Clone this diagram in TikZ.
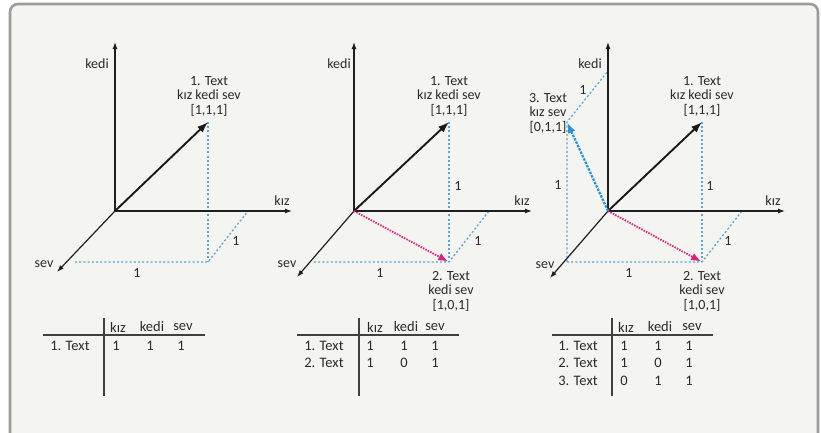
\documentclass[tikz,border=0pt]{standalone}
\usepackage{fontspec}
\setmainfont{Carlito}
\usetikzlibrary{arrows.meta,positioning,calc}
\definecolor{bgpanel}{HTML}{F4F4F1}
\definecolor{framegray}{HTML}{9C9C9C}
\definecolor{txtgray}{HTML}{2A2A2A}
\definecolor{guideblue}{HTML}{5AA6D6}
\definecolor{vecpink}{HTML}{D8237C}
\definecolor{vecblue}{HTML}{2B93D6}
\tikzset{
  axis/.style={line width=1.2pt,draw=black!88,-{Latex[length=7pt,width=5pt]}},
  vecblack/.style={line width=1.9pt,draw=black!90,-{Latex[length=11pt,width=8pt]}},
  vecpinkdot/.style={line width=1.8pt,draw=vecpink,dash pattern=on 1.5pt off 1.2pt,-{Latex[length=10pt,width=8pt]},shorten >=1pt},
  vecbluedash/.style={line width=2.2pt,draw=vecblue,dash pattern=on 2.5pt off 1.2pt,-{Latex[length=10pt,width=8pt]},shorten >=1pt},
  guide/.style={line width=1.3pt,draw=guideblue,dash pattern=on 2pt off 2.2pt},
  lbl/.style={text=txtgray,font=\fontsize{14}{14.5}\selectfont,inner sep=1pt,align=center},
  tbl/.style={text=txtgray,font=\fontsize{14.5}{16}\selectfont,inner sep=1pt},
  rule/.style={line width=1.2pt,draw=black!75}
}
\begin{document}
\begin{tikzpicture}[x=1pt,y=-1pt]
  \useasboundingbox (0,0) rectangle (821,432);
  \fill[white] (0,0) rectangle (821,432);
  \draw[rounded corners=8pt,line width=2.6pt,draw=framegray,fill=bgpanel] (10,4) rectangle (818,450);

  % first space: only 1. Text
  \coordinate (O1) at (115,211);
  \coordinate (kedi1) at (115,42);
  \coordinate (kiz1) at (292,211);
  \coordinate (sev1) at (57,272);
  \coordinate (t111a) at (208,122);
  \coordinate (t101a) at (208,262);
  \coordinate (s1) at (75,262);
  \coordinate (k1) at (248,211);
  \draw[guide] (t111a) -- (t101a);
  \draw[guide] (s1) -- (t101a) -- (k1);
  \draw[axis] (O1) -- (kedi1);
  \draw[axis] (O1) -- (kiz1);
  \draw[axis] (O1) -- (sev1);
  \draw[vecblack] (O1) -- (t111a);
  \node[lbl] (kedilab1) at (97,64) {kedi};
  \node[lbl] (kizlab1) at (282,201) {kız};
  \node[lbl] (sevlab1) at (44,264) {sev};
  \node[lbl] (one1a) at (137,273) {1};
  \node[lbl] (one1b) at (236,241) {1};
  \node[lbl] (text1a) at (209,96) {1. Text\\kız kedi sev\\{[1,1,1]}};

  % second space: 1. Text and 2. Text
  \coordinate (O2) at (354,211);
  \coordinate (kedi2) at (354,42);
  \coordinate (kiz2) at (532,211);
  \coordinate (sev2) at (297,277);
  \coordinate (t111b) at (449,122);
  \coordinate (t101b) at (449,262);
  \coordinate (s2) at (314,262);
  \coordinate (k2) at (489,211);
  \draw[guide] (t111b) -- (t101b);
  \draw[guide] (s2) -- (t101b) -- (k2);
  \draw[axis] (O2) -- (kedi2);
  \draw[axis] (O2) -- (kiz2);
  \draw[axis] (O2) -- (sev2);
  \draw[vecblack] (O2) -- (t111b);
  \draw[vecpinkdot] (O2) -- (t101b);
  \node[lbl] (kedilab2) at (339,64) {kedi};
  \node[lbl] (kizlab2) at (522,201) {kız};
  \node[lbl] (sevlab2) at (287,264) {sev};
  \node[lbl] (one2a) at (380,273) {1};
  \node[lbl] (one2b) at (478,241) {1};
  \node[lbl] (one2c) at (458,186) {1};
  \node[lbl] (text1b) at (449,96) {1. Text\\kız kedi sev\\{[1,1,1]}};
  \node[lbl] (text2b) at (451,291) {2. Text\\kedi sev\\{[1,0,1]}};

  % third space: all three texts
  \coordinate (O3) at (608,211);
  \coordinate (kedi3) at (608,42);
  \coordinate (kiz3) at (785,211);
  \coordinate (sev3) at (550,278);
  \coordinate (t111c) at (702,122);
  \coordinate (t101c) at (702,262);
  \coordinate (t011c) at (567,122);
  \coordinate (s3) at (567,262);
  \coordinate (k3) at (742,211);
  \coordinate (e3) at (608,71);
  \draw[guide] (t111c) -- (t101c);
  \draw[guide] (s3) -- (t101c) -- (k3);
  \draw[guide] (s3) -- (t011c) -- (e3);
  \draw[axis] (O3) -- (kedi3);
  \draw[axis] (O3) -- (kiz3);
  \draw[axis] (O3) -- (sev3);
  \draw[vecblack] (O3) -- (t111c);
  \draw[vecpinkdot] (O3) -- (t101c);
  \draw[vecbluedash] (O3) -- (t011c);
  \node[lbl] (kedilab3) at (590,64) {kedi};
  \node[lbl] (kizlab3) at (773,201) {kız};
  \node[lbl] (sevlab3) at (545,265) {sev};
  \node[lbl] (one3a) at (629,273) {1};
  \node[lbl] (one3b) at (728,241) {1};
  \node[lbl] (one3c) at (710,186) {1};
  \node[lbl] (one3d) at (558,185) {1};
  \node[lbl] (one3e) at (583,90) {1};
  \node[lbl] (text1c) at (702,96) {1. Text\\kız kedi sev\\{[1,1,1]}};
  \node[lbl] (text2c) at (702,291) {2. Text\\kedi sev\\{[1,0,1]}};
  \node[lbl] (text3c) at (548,113) {3. Text\\kız sev\\{[0,1,1]}};

  % tables
  \draw[rule] (43,335) -- (205,335);
  \draw[rule] (104,318) -- (104,396);
  \node[tbl] (h1a) at (118,327) {kız};
  \node[tbl] (h1b) at (152,327) {kedi};
  \node[tbl] (h1c) at (183,327) {sev};
  \node[tbl] (r1a) at (70,346) {1. Text};
  \node[tbl] at (116,346) {1}; \node[tbl] at (150,346) {1}; \node[tbl] at (181,346) {1};

  \draw[rule] (297,335) -- (459,335);
  \draw[rule] (359,318) -- (359,396);
  \node[tbl] (h2a) at (375,327) {kız};
  \node[tbl] (h2b) at (406,327) {kedi};
  \node[tbl] (h2c) at (435,327) {sev};
  \node[tbl] (r2a) at (324,346) {1. Text};
  \node[tbl] (r2b) at (324,363) {2. Text};
  \node[tbl] at (370,346) {1}; \node[tbl] at (404,346) {1}; \node[tbl] at (435,346) {1};
  \node[tbl] at (370,363) {1}; \node[tbl] at (404,363) {0}; \node[tbl] at (435,363) {1};

  \draw[rule] (552,335) -- (713,335);
  \draw[rule] (612,318) -- (612,396);
  \node[tbl] (h3a) at (626,327) {kız};
  \node[tbl] (h3b) at (660,327) {kedi};
  \node[tbl] (h3c) at (692,327) {sev};
  \node[tbl] (r3a) at (578,346) {1. Text};
  \node[tbl] (r3b) at (578,363) {2. Text};
  \node[tbl] (r3c) at (578,381) {3. Text};
  \node[tbl] at (624,346) {1}; \node[tbl] at (658,346) {1}; \node[tbl] at (689,346) {1};
  \node[tbl] at (624,363) {1}; \node[tbl] at (658,363) {0}; \node[tbl] at (689,363) {1};
  \node[tbl] at (624,381) {0}; \node[tbl] at (658,381) {1}; \node[tbl] at (689,381) {1};
\end{tikzpicture}
\end{document}
